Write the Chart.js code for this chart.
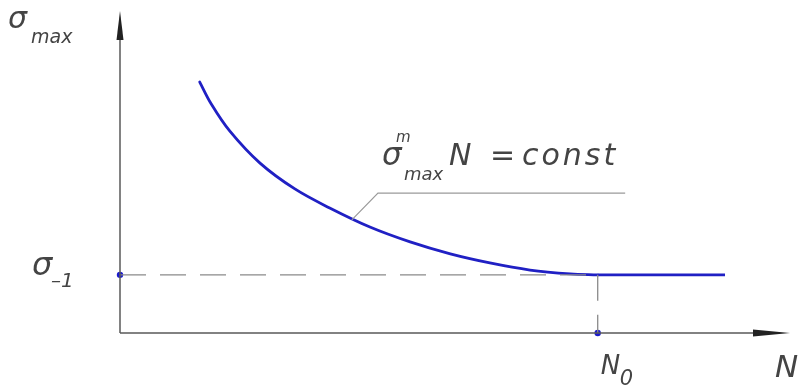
<!DOCTYPE html>
<html>
<head>
<meta charset="utf-8">
<script src="https://cdn.jsdelivr.net/npm/chart.js@4"></script>
<style>
  html, body { margin: 0; padding: 0; background: #fff; }
  #wrap { width: 800px; height: 387px; }
</style>
</head>
<body>
<div id="wrap"><canvas id="c" width="800" height="387"></canvas></div>
<script>
// ---- data (arbitrary units: N 0..100, sigma 0..100) ----
const curveN     = [11.9, 13.6, 16.4, 20.9, 26.1, 31.3, 37.3, 43.3, 49.3, 55.2, 61.2, 67.2, 71.3];
const curveSigma = [77.7, 71.0, 62.5, 52.6, 44.6, 38.7, 32.8, 28.2, 24.5, 21.7, 19.5, 18.3, 18.0];
const flatN      = [71.3, 90.3];
const sigmaLimit = 18.0;   // σ-1 level
const nKnee = 71.3;        // N0
const leaderN     = [34.6, 38.5, 75.4];
const leaderSigma = [35.0, 43.3, 43.3];
const axisMax = 100;
const formulaText = { base: 'σ', sup: 'm', sub: 'max', rest: 'N', eq: '=', c: 'const' };
const yAxisLabel = { main: 'σ', sub: 'max' };
const xAxisLabel = 'N';
const yTickLabel = { main: 'σ', sub: '–1' };
const xTickLabel = { main: 'N', sub: '0' };

const toPts = (xs, ys) => xs.map((x, i) => ({ x, y: ys[i] }));

const FONT = '"DejaVu Sans", "Liberation Sans", sans-serif';
const TXT = '#444';

function txt(ctx, s, x, y, size, spacing) {
  ctx.font = 'italic 300 ' + size + 'px ' + FONT;
  ctx.letterSpacing = (spacing || 0) + 'px';
  ctx.fillText(s, x, y);
  ctx.letterSpacing = '0px';
}

const overlay = {
  id: 'overlay',
  afterDatasetsDraw(chart) {
    const ctx = chart.ctx;
    const xs = chart.scales.x, ys = chart.scales.y;
    const X = v => xs.getPixelForValue(v), Y = v => ys.getPixelForValue(v);
    ctx.save();
    // axes
    ctx.strokeStyle = '#5a5a5a';
    ctx.lineWidth = 1.5;
    ctx.beginPath();
    ctx.moveTo(X(0), Y(0)); ctx.lineTo(X(0), Y(axisMax) + 20);
    ctx.moveTo(X(0), Y(0)); ctx.lineTo(X(axisMax) - 25, Y(0));
    ctx.stroke();
    // arrows
    ctx.fillStyle = '#222';
    ctx.beginPath();
    ctx.moveTo(X(0), Y(axisMax) + 1);
    ctx.lineTo(X(0) - 3.5, Y(axisMax) + 30);
    ctx.lineTo(X(0) + 3.5, Y(axisMax) + 30);
    ctx.closePath(); ctx.fill();
    ctx.beginPath();
    ctx.moveTo(X(axisMax), Y(0));
    ctx.lineTo(X(axisMax) - 37, Y(0) - 3.5);
    ctx.lineTo(X(axisMax) - 37, Y(0) + 3.5);
    ctx.closePath(); ctx.fill();
    // texts
    ctx.fillStyle = TXT;
    ctx.textBaseline = 'alphabetic';
    ctx.textAlign = 'left';
    // y axis label
    txt(ctx, yAxisLabel.main, X(0) - 112, 28, 30);
    txt(ctx, yAxisLabel.sub, X(0) - 89, 43, 19);
    // x axis label
    txt(ctx, xAxisLabel, X(axisMax) - 15, 377, 31);
    // sigma -1
    const yl = Y(sigmaLimit);
    txt(ctx, yTickLabel.main, X(0) - 88, yl + 0, 32);
    txt(ctx, yTickLabel.sub, X(0) - 69, yl + 12, 20);
    // N0
    const xn = X(nKnee);
    txt(ctx, xTickLabel.main, xn + 3, Y(0) + 41, 26);
    txt(ctx, xTickLabel.sub, xn + 22, Y(0) + 52, 21);
    // formula
    const lx = X(leaderN[1]), ly = Y(leaderSigma[1]);
    txt(ctx, formulaText.base, lx + 4, ly - 28, 31);
    txt(ctx, formulaText.sup, lx + 18, ly - 51, 15);
    txt(ctx, formulaText.sub, lx + 26, ly - 13, 18);
    txt(ctx, formulaText.rest, lx + 71, ly - 28, 30);
    txt(ctx, formulaText.eq, lx + 112, ly - 28, 30);
    txt(ctx, formulaText.c, lx + 144, ly - 28, 30, 3);
    ctx.restore();
  }
};

new Chart(document.getElementById('c'), {
  type: 'scatter',
  data: {
    datasets: [
      {
        data: [{ x: 0, y: sigmaLimit }, { x: nKnee, y: sigmaLimit }],
        showLine: true, borderColor: '#8a8a8a', borderWidth: 1.3, borderDash: [26, 14],
        pointRadius: 0, clip: false
      },
      {
        data: [{ x: nKnee, y: sigmaLimit }, { x: nKnee, y: 0 }],
        showLine: true, borderColor: '#8a8a8a', borderWidth: 1.3, borderDash: [26, 14],
        pointRadius: 0, clip: false
      },
      {
        data: toPts(leaderN, leaderSigma),
        showLine: true, borderColor: '#9a9a9a', borderWidth: 1.2,
        pointRadius: 0, clip: false
      },
      {
        data: toPts(curveN, curveSigma),
        showLine: true, borderColor: '#2020c4', borderWidth: 2.8,
        tension: 0.35, pointRadius: 0, clip: false,
        borderCapStyle: 'round'
      },
      {
        data: flatN.map(x => ({ x, y: sigmaLimit })),
        showLine: true, borderColor: '#2020c4', borderWidth: 2.8,
        pointRadius: 0, clip: false, borderCapStyle: 'butt'
      },
      {
        data: [{ x: 0, y: sigmaLimit }, { x: nKnee, y: 0 }],
        showLine: false, pointRadius: 3.2, pointBackgroundColor: '#1a1acc',
        pointBorderWidth: 0, clip: false
      }
    ]
  },
  options: {
    responsive: false,
    animation: false,
    layout: { padding: { left: 120, right: 10, top: 10, bottom: 54 } },
    plugins: { legend: { display: false }, tooltip: { enabled: false } },
    scales: {
      x: { type: 'linear', min: 0, max: axisMax, display: false },
      y: { type: 'linear', min: 0, max: axisMax, display: false }
    }
  },
  plugins: [overlay]
});
</script>
</body>
</html>
